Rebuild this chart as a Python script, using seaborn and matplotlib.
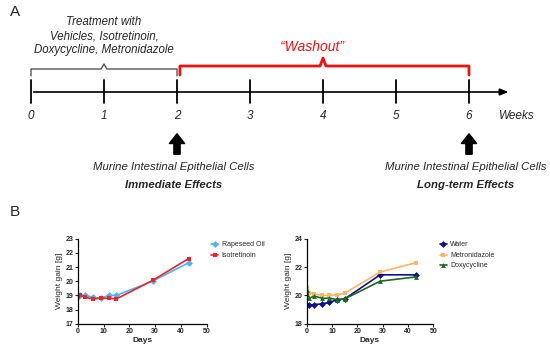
import pandas as pd
import matplotlib
matplotlib.use('Agg')
import matplotlib.pyplot as plt
import seaborn as sns

# ---- data ----
weeks = [0, 1, 2, 3, 4, 5, 6]
treatment_end_week = 2
sampling_weeks = [2, 6]
sampling_labels = ['Immediate Effects', 'Long-term Effects']

days = [0, 1, 3, 6, 9, 12, 15, 29, 43]
rapeseed_oil = [18.9, 19.0, 19.0, 18.85, 18.8, 19.0, 19.0, 20.0, 21.3]
isotretinoin = [18.95, 19.0, 18.85, 18.75, 18.8, 18.8, 18.75, 20.05, 21.6]
water = [19.3, 19.3, 19.35, 19.4, 19.5, 19.7, 19.75, 21.45, 21.45]
metronidazole = [20.5, 20.2, 20.1, 20.0, 20.0, 20.05, 20.15, 21.65, 22.3]
doxycycline = [20.4, 19.8, 19.95, 19.8, 19.8, 19.7, 19.75, 21.0, 21.3]

sns.set_style('white')
plt.rcParams['font.family'] = ['Liberation Sans', 'DejaVu Sans']

fig = plt.figure(figsize=(5.5, 3.47), dpi=100)

# ---- panel A: timeline (x in weeks, y in pixels from top) ----
top = fig.add_axes([0, 0, 1, 1])
top.set_xlim(-31 / 73, (550 - 31) / 73)
top.set_ylim(347, 0)
top.axis('off')

top.annotate('', xy=(weeks[-1] + 0.58, 92), xytext=(weeks[0], 92),
             arrowprops=dict(arrowstyle='-|>,head_length=0.5,head_width=0.2', color='black', lw=1.2))
for w in weeks:
    top.plot([w, w], [80, 103], color='black', lw=1.3)
    top.text(w, 116, str(w), ha='center', va='center', style='italic', fontsize=8.5)
top.text(weeks[-1] + 0.66, 116, 'Weeks', ha='center', va='center', style='italic', fontsize=8.5)

# black brace (treatment)
mid = treatment_end_week / 2
top.plot([0, 0, mid - 0.04, mid, mid + 0.04, treatment_end_week, treatment_end_week],
         [76, 69, 69, 64, 69, 69, 76], color='#444444', lw=0.9)
top.text(mid, 36, 'Treatment with\nVehicles, Isotretinoin,\nDoxycycline, Metronidazole',
         ha='center', va='center', style='italic', fontsize=8.3, linespacing=1.2)

# red brace (washout)
s, e = treatment_end_week + 0.04, weeks[-1]
m = (treatment_end_week + weeks[-1]) / 2
top.plot([s, s, m - 0.04, m, m + 0.04, e, e],
         [75, 66, 66, 58, 66, 66, 75], color='#ee1111', lw=2)
top.text(m - 0.15, 47, '\u201cWashout\u201d', ha='center', va='center', style='italic',
         fontsize=10, color='#ee1111')

for w, lab in zip(sampling_weeks, sampling_labels):
    top.annotate('', xy=(w, 131), xytext=(w, 157),
                 arrowprops=dict(arrowstyle='simple,head_length=0.7,head_width=1.1,tail_width=0.45',
                                 color='black', mutation_scale=10))
    top.text(w - 0.05, 167, 'Murine Intestinal Epithelial Cells', ha='center', va='center',
             style='italic', fontsize=8.2)
    top.text(w - 0.05, 184.5, lab, ha='center', va='center', style='italic',
             fontweight='bold', fontsize=8.2)

fig.text(10 / 550, 1 - 12 / 347, 'A', fontsize=11, va='center', ha='left')
fig.text(10 / 550, 1 - 212 / 347, 'B', fontsize=11, va='center', ha='left')


# ---- panel B: weight curves ----
def weight_panel(rect, series, colors, markers, yticks, leg_x):
    ax = fig.add_axes(rect)
    df = pd.concat([pd.DataFrame({'Days': days, 'Weight gain [g]': v, 'group': k})
                    for k, v in series.items()])
    sns.lineplot(data=df, x='Days', y='Weight gain [g]', hue='group', style='group',
                 palette=colors, markers=markers, dashes=False, ax=ax,
                 linewidth=1.2, markersize=3.5, markeredgewidth=0)
    ax.set_xlim(0, 50)
    ax.set_ylim(yticks[0], yticks[-1])
    ax.set_xticks([0, 10, 20, 30, 40, 50])
    ax.set_yticks(yticks)
    sns.despine(ax=ax)
    for sp in ['left', 'bottom']:
        ax.spines[sp].set_linewidth(0.9)
        ax.spines[sp].set_color('black')
    ax.tick_params(axis='both', labelsize=5, length=2, width=0.8, pad=1,
                   direction='out', bottom=True, left=True)
    for t in ax.get_xticklabels() + ax.get_yticklabels():
        t.set_fontweight('bold')
    ax.set_xlabel('Days', fontsize=6, fontweight='bold', labelpad=1.5)
    ax.set_ylabel('Weight gain [g]', fontsize=6, labelpad=2)
    sns.move_legend(ax, 'upper left', bbox_to_anchor=(leg_x, 1.0), frameon=False,
                    title=None, fontsize=5, handlelength=1.0, handletextpad=0.5,
                    labelspacing=0.5, borderaxespad=0)
    return ax


weight_panel([77.7 / 550, 1 - 323.7 / 347, 129 / 550, 85 / 347],
             {'Rapeseed Oil': rapeseed_oil, 'Isotretinoin': isotretinoin},
             {'Rapeseed Oil': '#4db3f5', 'Isotretinoin': '#e8242c'},
             {'Rapeseed Oil': 'D', 'Isotretinoin': 's'},
             [17, 18, 19, 20, 21, 22, 23], 1.015)

weight_panel([306.7 / 550, 1 - 323.7 / 347, 126.6 / 550, 85 / 347],
             {'Water': water, 'Metronidazole': metronidazole, 'Doxycycline': doxycycline},
             {'Water': '#10108a', 'Metronidazole': '#ffb466', 'Doxycycline': '#1d6b22'},
             {'Water': 'D', 'Metronidazole': 's', 'Doxycycline': '^'},
             [18, 20, 22, 24], 1.03)

fig.savefig('out.png', dpi=100)
